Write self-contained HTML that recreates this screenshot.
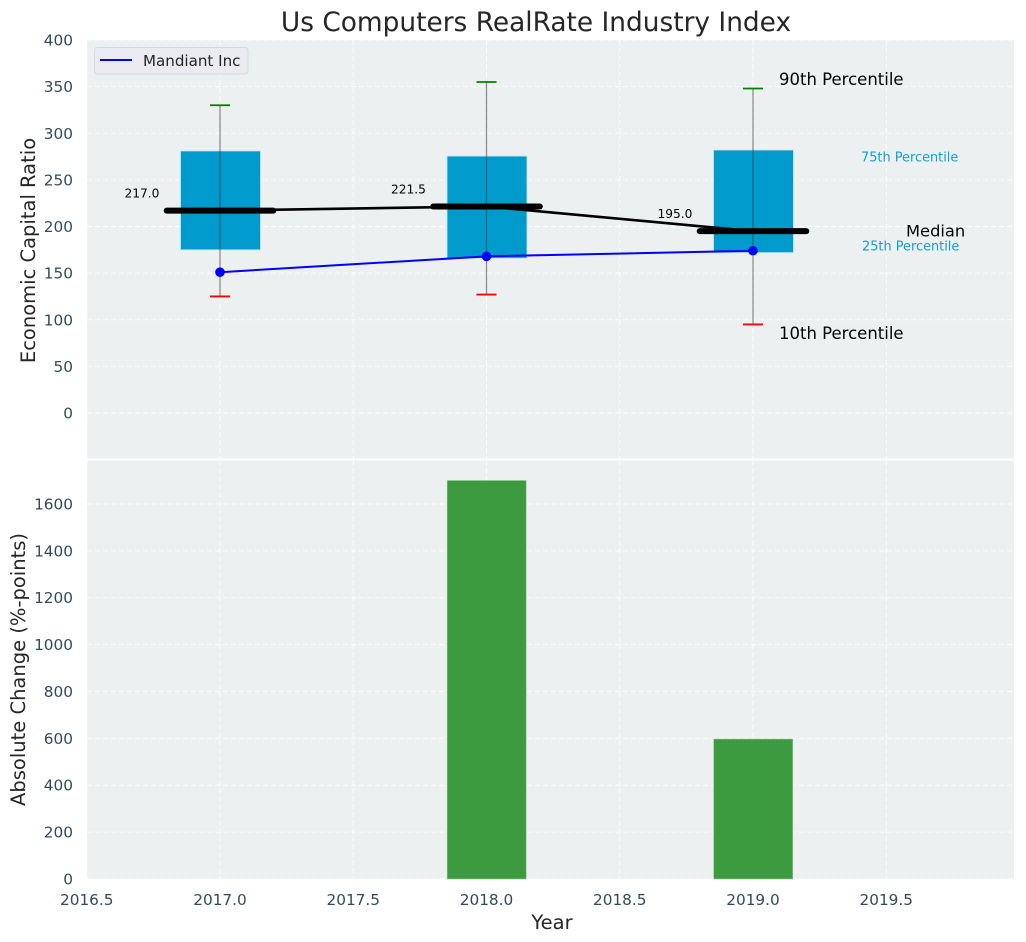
<!DOCTYPE html>
<html lang="en">
<head>
<meta charset="utf-8">
<title>Us Computers RealRate Industry Index</title>
<style>
html,body{margin:0;padding:0;background:#fff;}
#chart{display:block;font-family:"DejaVu Sans","Liberation Sans",sans-serif;}
</style>
</head>
<body>
<svg id="chart" xmlns="http://www.w3.org/2000/svg" width="1026" height="942" viewBox="0 0 1026 942">
  <rect x="0" y="0" width="1026" height="942" fill="#ffffff"/>
  <rect x="87" y="40" width="927" height="418.5" fill="#ecf0f1"/>
  <rect x="87" y="460.5" width="927" height="418.5" fill="#ecf0f1"/>
  <g id="grid"></g>
  <g id="marks"></g>
  <g id="labels"></g>
  <text x="536" y="31" text-anchor="middle" font-size="26.4px" fill="#262626">Us Computers RealRate Industry Index</text>
  <text transform="translate(35,250.5) rotate(-90)" text-anchor="middle" font-size="19.5px" fill="#262626">Economic Capital Ratio</text>
  <text transform="translate(25,669.5) rotate(-90)" text-anchor="middle" font-size="19.5px" fill="#262626">Absolute Change (%-points)</text>
  <text x="552" y="929" text-anchor="middle" font-size="19.5px" fill="#262626">Year</text>
  <g>
    <rect x="94.5" y="47.5" width="153.5" height="26.5" rx="3" fill="#e9ebf0" stroke="#d5d8dc" stroke-width="1"/>
    <line x1="100" y1="60" x2="132" y2="60" stroke="#0000ff" stroke-width="2"/>
    <text x="143" y="66" font-size="15.1px" fill="#262626">Mandiant Inc</text>
  </g>
</svg>
<script>
var years = [2017, 2018, 2019];
var p90 = [330, 355, 348];
var p75 = [281, 275.5, 282];
var medians = [217, 221.5, 195];
var p25 = [175, 166, 172];
var p10 = [125, 127, 95];
var companyValues = [151, 168, 174];
var changeYears = [2018, 2019];
var changeValues = [1700, 597];
var xTickValues = [2016.5, 2017, 2017.5, 2018, 2018.5, 2019, 2019.5];
var xTickLabels = ['2016.5', '2017.0', '2017.5', '2018.0', '2018.5', '2019.0', '2019.5'];
var topYTicks = [0, 50, 100, 150, 200, 250, 300, 350, 400];
var bottomYTicks = [0, 200, 400, 600, 800, 1000, 1200, 1400, 1600];

var NS = 'http://www.w3.org/2000/svg';
var gridLayer = document.getElementById('grid');
var marksLayer = document.getElementById('marks');
var labelsLayer = document.getElementById('labels');

function xPos(v) { return 220 + (v - 2017) * 266.5; }
function yTop(v) { return 413 - v * 0.9325; }
function yBottom(v) { return 879 - v * 0.2344; }

function shape(parent, tag, name) {
  var el = document.createElementNS(NS, tag);
  
  
  parent.appendChild(el);
  return el;
}
function line(parent, name, x1, y1, x2, y2, color, width) {
  var el = shape(parent, 'line', name);
  el.setAttribute('x1', x1);
  el.setAttribute('y1', y1);
  el.setAttribute('x2', x2);
  el.setAttribute('y2', y2);
  el.setAttribute('stroke', color);
  el.setAttribute('stroke-width', width);
  return el;
}
function label(name, x, y, str, size, color, anchor) {
  var el = shape(labelsLayer, 'text', name);
  el.setAttribute('x', x);
  el.setAttribute('y', y);
  el.setAttribute('font-size', size + 'px');
  el.setAttribute('fill', color);
  el.setAttribute('text-anchor', anchor || 'start');
  el.textContent = str;
  return el;
}
function gridLine(name, x1, y1, x2, y2) {
  var el = line(gridLayer, name, x1, y1, x2, y2, '#ffffff', 1);
  el.setAttribute('stroke-dasharray', '5 3');
  el.setAttribute('stroke-opacity', '0.85');
}
function polyline(name, xs, ys, color, width) {
  var el = shape(marksLayer, 'polyline', name);
  var pts = [];
  for (var i = 0; i < xs.length; i++) {
    pts.push(xPos(xs[i]) + ',' + yTop(ys[i]));
  }
  el.setAttribute('points', pts.join(' '));
  el.setAttribute('fill', 'none');
  el.setAttribute('stroke', color);
  el.setAttribute('stroke-width', width);
}

xTickValues.forEach(function (t, i) {
  gridLine('top-x-grid-line', xPos(t), 40, xPos(t), 458.5);
  gridLine('bottom-x-grid-line', xPos(t), 460.5, xPos(t), 879);
  label('x-tick-label', xPos(t), 905, xTickLabels[i], 15.3, '#34495e', 'middle');
});
topYTicks.forEach(function (t) {
  gridLine('top-y-grid-line', 87, yTop(t), 1014, yTop(t));
  label('top-y-tick-label', 73, yTop(t) + 5.5, String(t), 15.3, '#34495e', 'end');
});
bottomYTicks.forEach(function (t) {
  gridLine('bottom-y-grid-line', 87, yBottom(t), 1014, yBottom(t));
  label('bottom-y-tick-label', 73, yBottom(t) + 5.5, String(t), 15.3, '#34495e', 'end');
});

// Separator between the two panels is the white figure background.

// Percentile boxes
years.forEach(function (yr, i) {
  var box = shape(marksLayer, 'rect', 'percentile-box-' + yr);
  box.setAttribute('x', xPos(yr - 0.15) + 0.5);
  box.setAttribute('y', yTop(p75[i]));
  box.setAttribute('width', xPos(yr + 0.15) - xPos(yr - 0.15));
  box.setAttribute('height', yTop(p25[i]) - yTop(p75[i]));
  box.setAttribute('fill', '#009bcc');
  box.setAttribute('stroke', '#bfe3ee');
  box.setAttribute('stroke-width', '0.8');
});

// Median trend line
polyline('median-trend-line', years, medians, '#000000', 2.6);

// Whiskers, caps and median bars
years.forEach(function (yr, i) {
  var cx = xPos(yr);
  line(marksLayer, 'whisker-' + yr, cx, yTop(p90[i]), cx, yTop(p10[i]), '#3a3a3a', 1.3).setAttribute('stroke-opacity', '0.55');
  line(marksLayer, 'p90-cap-' + yr, cx - 10, yTop(p90[i]), cx + 10, yTop(p90[i]), '#008000', 1.8);
  line(marksLayer, 'p10-cap-' + yr, cx - 10, yTop(p10[i]), cx + 10, yTop(p10[i]), '#ff0000', 1.8);
  var med = line(marksLayer, 'median-bar-' + yr, xPos(yr - 0.2), yTop(medians[i]), xPos(yr + 0.2), yTop(medians[i]), '#000000', 6);
  med.setAttribute('stroke-linecap', 'round');
  label('median-value-' + yr, cx - 95.5, yTop(medians[i]) - 13, medians[i].toFixed(1), 12.2, '#000000');
});

// Company series
polyline('company-line', years, companyValues, '#0000ff', 2);
years.forEach(function (yr, i) {
  var dot = shape(marksLayer, 'circle', 'company-point-' + yr);
  dot.setAttribute('cx', xPos(yr));
  dot.setAttribute('cy', yTop(companyValues[i]));
  dot.setAttribute('r', '4.8');
  dot.setAttribute('fill', '#0000ff');
});

// Absolute change bars
changeYears.forEach(function (yr, i) {
  var bar = shape(marksLayer, 'rect', 'change-bar-' + yr);
  bar.setAttribute('x', xPos(yr - 0.15) + 0.7);
  bar.setAttribute('y', yBottom(changeValues[i]));
  bar.setAttribute('width', xPos(yr + 0.15) - xPos(yr - 0.15) - 1);
  bar.setAttribute('height', yBottom(0) - yBottom(changeValues[i]));
  bar.setAttribute('fill', '#3d9b3f');
  bar.setAttribute('stroke', '#8cc58d');
  bar.setAttribute('stroke-width', '0.6');
});

// Percentile annotations (next to the final year)
label('p90-annotation', 779, 85, '90th Percentile', 16.5, '#000000');
label('p10-annotation', 779, 339, '10th Percentile', 16.5, '#000000');
label('median-annotation', 906, 236.5, 'Median', 16.3, '#000000');
label('p75-annotation', 861, 161.5, '75th Percentile', 12.9, '#14a0cf');
label('p25-annotation', 862, 250.5, '25th Percentile', 12.9, '#14a0cf');
</script>
</body>
</html>
